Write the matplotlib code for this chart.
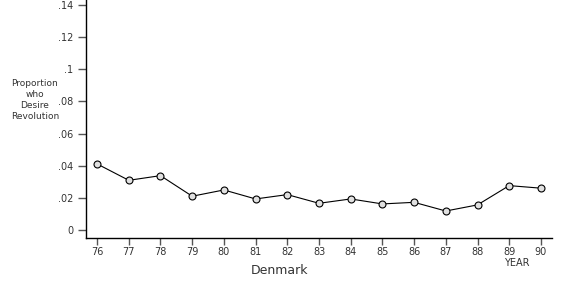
import matplotlib
matplotlib.use("Agg")
import matplotlib.pyplot as plt

years = [76, 77, 78, 79, 80, 81, 82, 83, 84, 85, 86, 87, 88, 89, 90]
proportion = [0.0411, 0.0309, 0.0338, 0.0210, 0.0249, 0.0193, 0.0220, 0.0166,
              0.0193, 0.0162, 0.0172, 0.0118, 0.0156, 0.0276, 0.0260]
ytick_values = [0, 0.02, 0.04, 0.06, 0.08, 0.10, 0.12, 0.14]
ytick_labels = ["0", ".02", ".04", ".06", ".08", ".1", ".12", ".14"]
xtick_labels = [str(y) for y in years]

plt.rcParams['font.family'] = ['DejaVu Sans']

fig = plt.figure(figsize=(5.77, 2.86), dpi=100)
ax = fig.add_axes([86/577, 48/286, (552-86)/577, 238/286])

ax.plot(years, proportion, color='black', lw=0.8, marker='o', ms=5,
        mfc='#e0e0e0', mec='black', mew=0.8)

ax.set_xlim(75.65, 90.35)
ax.set_ylim(-0.005, 0.1431)
ax.set_xticks(years)
ax.set_xticklabels(xtick_labels)
ax.set_yticks(ytick_values)
ax.set_yticklabels(ytick_labels)

for s in ['top', 'right']:
    ax.spines[s].set_visible(False)
for s in ['left', 'bottom']:
    ax.spines[s].set_linewidth(1.0)
    ax.spines[s].set_color('black')

ax.tick_params(axis='both', direction='out', length=5, width=1.0,
               color='#555555', labelsize=7, labelcolor='#333333')
ax.tick_params(axis='x', pad=1.5)
ax.tick_params(axis='y', pad=3, length=6)

fig.text(35/577, 1 - 100/286, "Proportion\nwho\nDesire\nRevolution",
         ha='center', va='center', fontsize=6.5, color='#333333',
         linespacing=1.25)
fig.text(517/577, 1 - 263/286, "YEAR", ha='center', va='center',
         fontsize=7, color='#333333')
fig.text(280/577, 1 - 271/286, "Denmark", ha='center', va='center',
         fontsize=9, color='#333333')

fig.savefig("out.png", dpi=100)
